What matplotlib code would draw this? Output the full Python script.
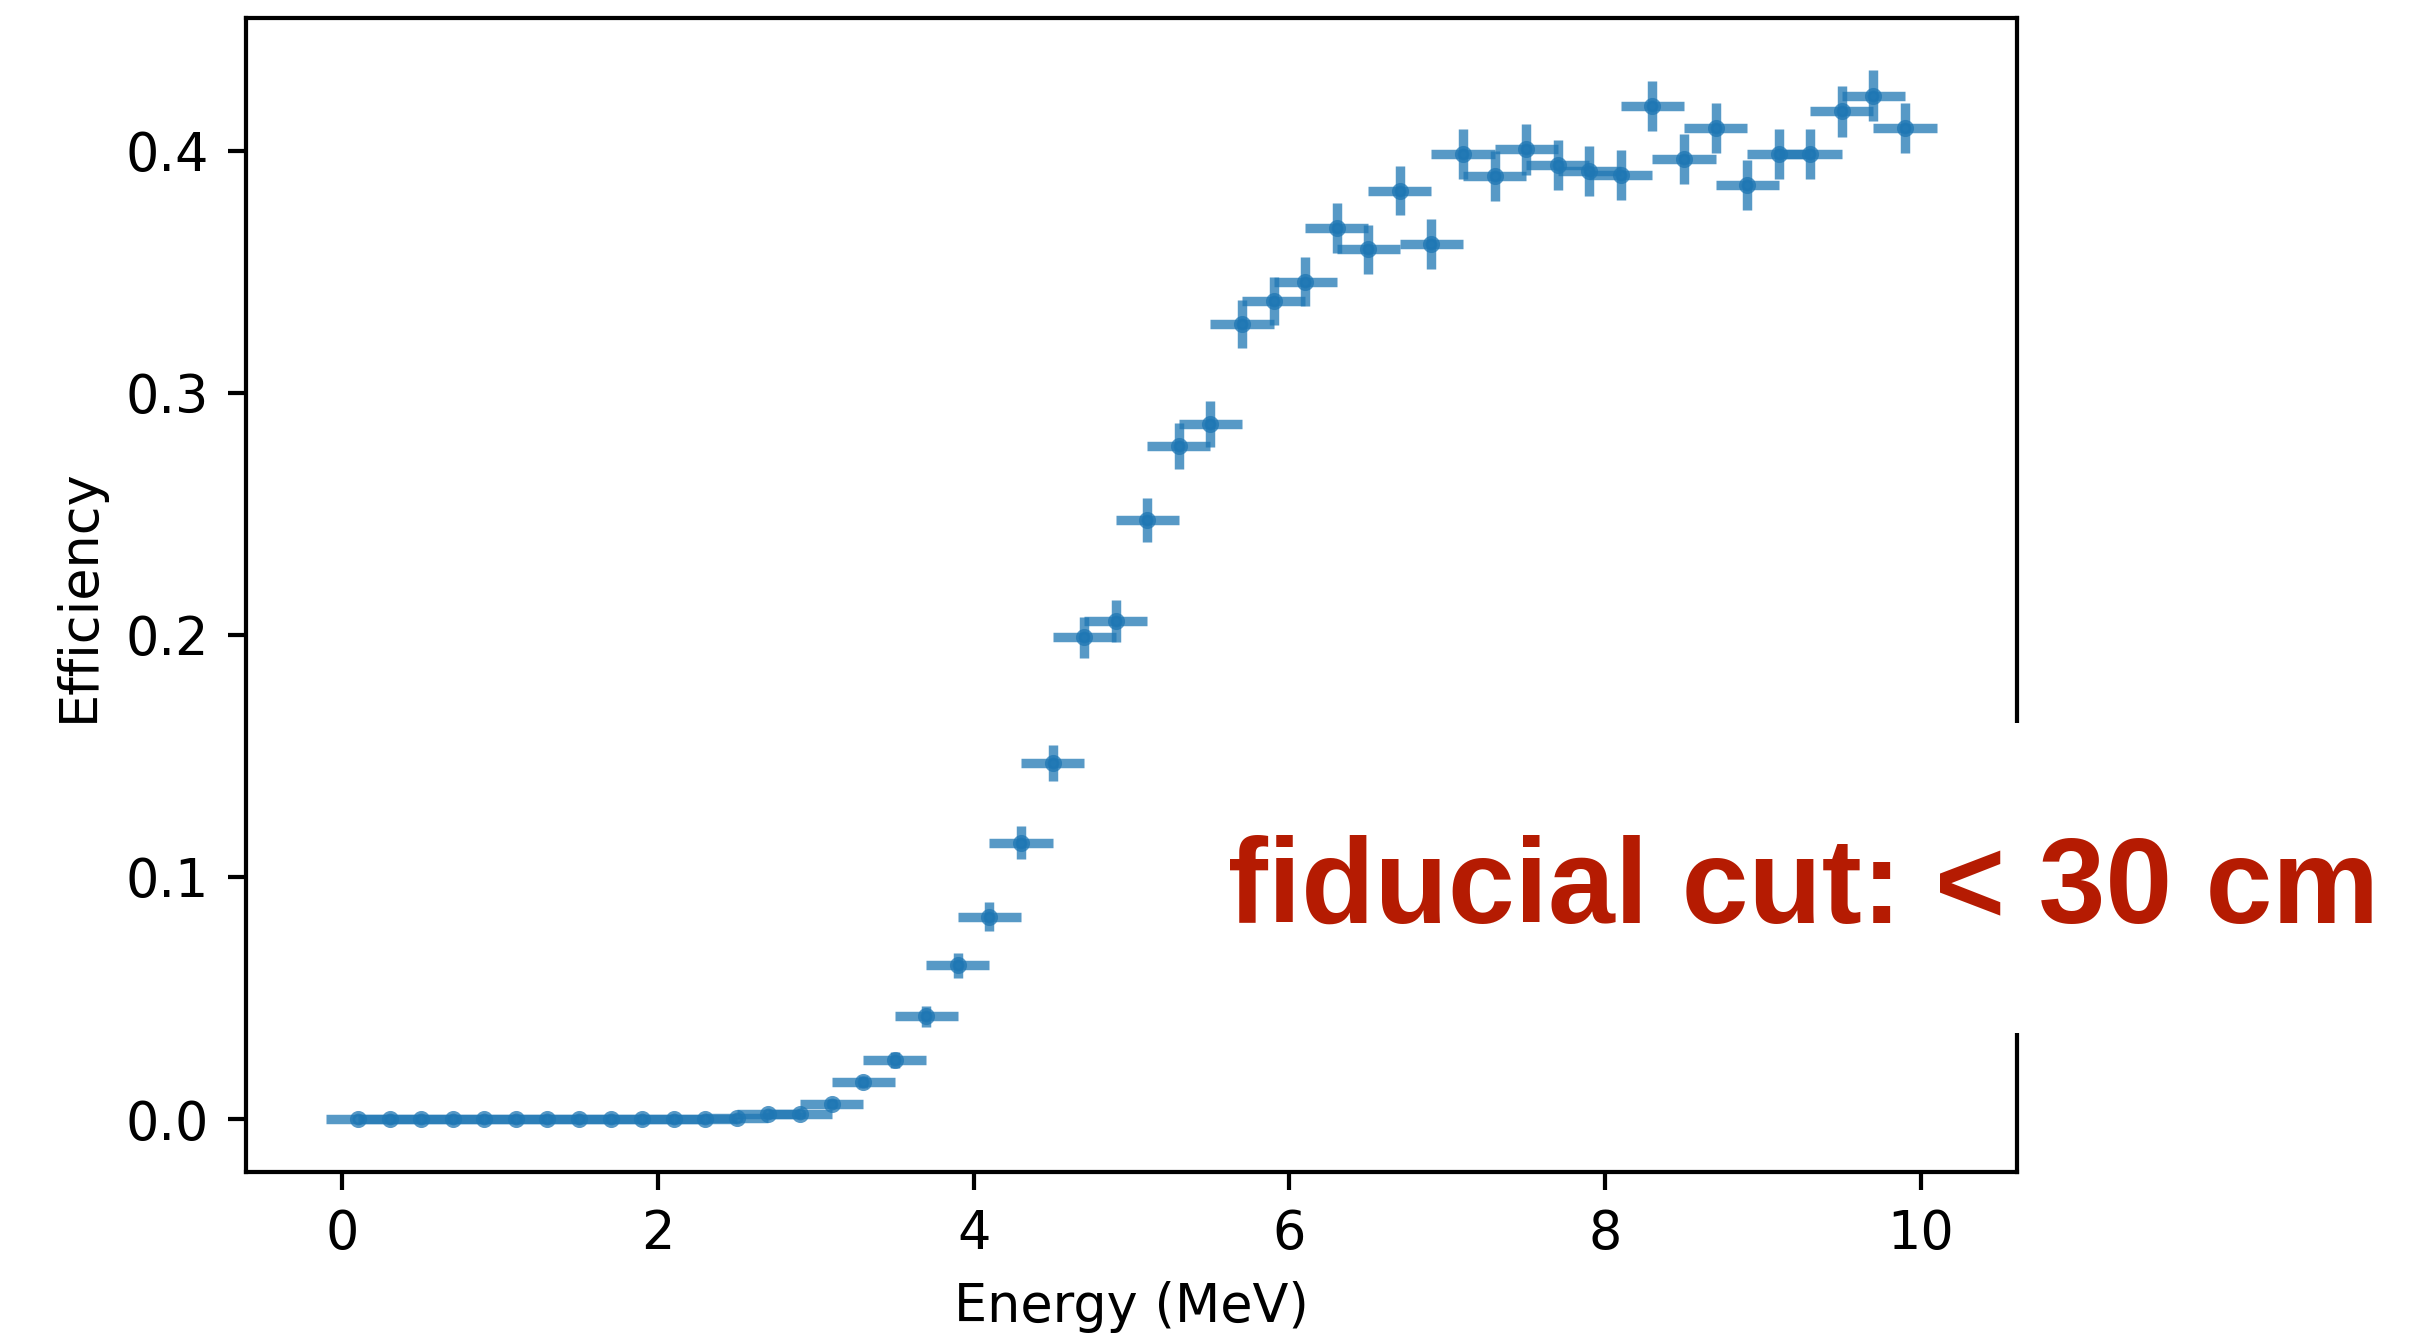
import matplotlib
matplotlib.use("Agg")
import matplotlib.pyplot as plt
from matplotlib.patches import Rectangle

# Bin centres (MeV)
energy = [0.1, 0.3, 0.5, 0.7, 0.9, 1.1, 1.3, 1.5, 1.7, 1.9,
          2.1, 2.3, 2.5, 2.7, 2.9, 3.1, 3.3, 3.5, 3.7, 3.9,
          4.1, 4.3, 4.5, 4.7, 4.9, 5.1, 5.3, 5.5, 5.7, 5.9,
          6.1, 6.3, 6.5, 6.7, 6.9, 7.1, 7.3, 7.5, 7.7, 7.9,
          8.1, 8.3, 8.5, 8.7, 8.9, 9.1, 9.3, 9.5, 9.7, 9.9]

efficiency = [0.0, 0.0, 0.0, 0.0, 0.0, 0.0, 0.0, 0.0, 0.0, 0.0,
              0.0, 0.0, 0.0005, 0.002, 0.002, 0.0064, 0.0153, 0.0245, 0.0425, 0.0635,
              0.0835, 0.1142, 0.147, 0.199, 0.2057, 0.2474, 0.2779, 0.287, 0.3283, 0.3379,
              0.3459, 0.3681, 0.3592, 0.3835, 0.3614, 0.3987, 0.3894, 0.4005, 0.394, 0.3916,
              0.3898, 0.4185, 0.3964, 0.4094, 0.3857, 0.3987, 0.3987, 0.4162, 0.4227, 0.4094]

eff_err = [0.0, 0.0, 0.0, 0.0, 0.0, 0.0, 0.0, 0.0, 0.0, 0.0,
           0.0, 0.0, 0.0005, 0.001, 0.001, 0.0017, 0.0026, 0.0033, 0.0043, 0.0052,
           0.006, 0.0068, 0.0075, 0.0085, 0.0086, 0.009, 0.0095, 0.0096, 0.0099, 0.0100,
           0.0101, 0.0102, 0.0102, 0.0103, 0.0102, 0.0104, 0.0103, 0.0104, 0.0104, 0.0104,
           0.0104, 0.0104, 0.0104, 0.0104, 0.0103, 0.0104, 0.0104, 0.0104, 0.0104, 0.0104]

energy_err = [0.2] * len(energy)

x_label = "Energy (MeV)"
y_label = "Efficiency"
note = "fiducial cut: < 30 cm"

W, H = 2412, 1335
DPI = 378
fig = plt.figure(figsize=(W / DPI, H / DPI), dpi=DPI)
ax = fig.add_axes([246 / W, (H - 1171.5) / H, 1771 / W, 1153.5 / H])

ax.errorbar(energy, efficiency, xerr=energy_err, yerr=eff_err,
            fmt='.', ms=4.5, color='#1f77b4', alpha=0.75, elinewidth=1.8)
ax.set_xlabel(x_label)
ax.set_ylabel(y_label)

# white box hiding part of the right spine, with the annotation on top
fig.patches.append(Rectangle((1150 / W, (H - 1033) / H), (W - 1150) / W, 310 / H,
                             transform=fig.transFigure, facecolor='white',
                             edgecolor='none', zorder=5))
fig.text(1228 / W, (H - 922.7) / H, note, ha='left', va='baseline',
         fontsize=22.9, fontweight='bold', color='#B51B02',
         family=['Liberation Sans', 'DejaVu Sans'], zorder=6)

fig.savefig("out.png", dpi=DPI)
